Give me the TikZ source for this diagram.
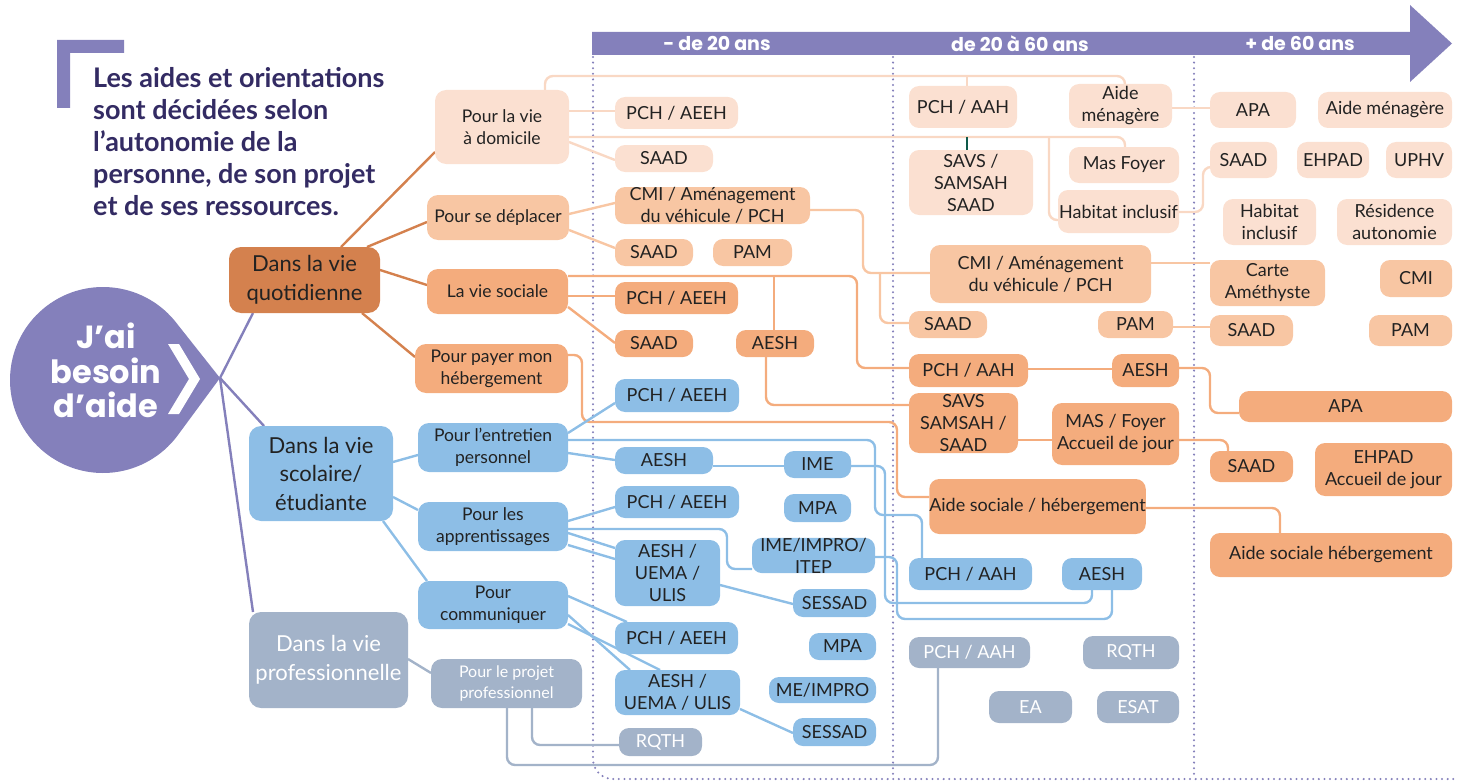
\documentclass[tikz,border=0pt]{standalone}
\usepackage{fontspec}
\setmainfont{Lato}
\newfontfamily\pop{Poppins}
\usetikzlibrary{backgrounds}
\definecolor{pu}{HTML}{8480BB}
\definecolor{navy}{HTML}{332B63}
\definecolor{ink}{HTML}{222222}
\definecolor{cdark}{HTML}{D4814E}
\definecolor{cmed}{HTML}{F4AC7D}
\definecolor{clight}{HTML}{F8C6A3}
\definecolor{cpale}{HTML}{FBE0D1}
\definecolor{cpaleL}{HTML}{F9D8C4}
\definecolor{cblue}{HTML}{8DBEE6}
\definecolor{cgrey}{HTML}{A3B3C9}
\definecolor{teal}{HTML}{0E5A4A}
\pgfdeclarelayer{bg}
\pgfsetlayers{bg,main}
\tikzset{
 bx/.style={rounded corners=10pt, inner sep=0pt, outer sep=0pt, align=center, text=ink, font=\fontsize{18}{22}\selectfont},
 lone/.style={bx, font=\fontsize{22}{28.5}\selectfont, rounded corners=12pt},
 ltwo/.style={bx, font=\fontsize{17.5}{22}\selectfont, rounded corners=11pt},
 fPale/.style={fill=cpale}, fLight/.style={fill=clight}, fMed/.style={fill=cmed},
 fDark/.style={fill=cdark}, fBlue/.style={fill=cblue}, fGrey/.style={fill=cgrey, text=white},
 ln/.style={line width=2.4pt, rounded corners=8pt},
 lnPu/.style={ln, draw=pu}, lnDk/.style={ln, draw=cdark}, lnMd/.style={ln, draw=cmed},
 lnLt/.style={ln, draw=clight}, lnPa/.style={ln, draw=cpaleL}, lnBl/.style={ln, draw=cblue},
 lnGr/.style={ln, draw=cgrey},
 dotln/.style={draw=pu, line width=2.3pt, line cap=round, dash pattern=on 0pt off 5.6pt, rounded corners=20pt},
 hdr/.style={text=white, font=\pop\bfseries\fontsize{19}{22}\selectfont, inner sep=0pt},
}
\newcommand\mkbox[7]{\node[#6, minimum width={#4-#2}, minimum height={#5-#3}] (#1) at ({(#2+#4)/2},{(#3+#5)/2}) {#7};}
\begin{document}
\begin{tikzpicture}[x=1pt,y=-1pt]
\useasboundingbox (0,0) rectangle (1461,781);
% header arrow
\fill[pu] (592,32) -- (1410,32) -- (1410,5) -- (1452,43.5) -- (1410,82) -- (1410,55) -- (592,55) -- cycle;
\node[hdr] (h1) at (717,43.5) {- de 20 ans};
\node[hdr] (h2) at (1020,43.5) {de 20 à 60 ans};
\node[hdr] (h3) at (1300,43.5) {+ de 60 ans};
% title
\fill[pu] (57,40) -- (124,40) -- (124,53) -- (70,53) -- (70,108) -- (57,108) -- cycle;
\node[anchor=north west, inner sep=0pt, align=left, text=navy, font=\bfseries\fontsize{27}{32}\selectfont] (title) at (93,67.5) {Les aides et orientations\\sont décidées selon\\l’autonomie de la\\personne, de son projet\\et de ses ressources.};
% bubble
\coordinate (tip) at (220,378);
\fill[pu] (tip) -- ([shift={(37.3:93pt)}]103,380) arc[start angle=37.3,end angle=322.7,radius=93pt] -- cycle;
\fill[white] (168,344) -- (179,344) -- (200,379) -- (179,414) -- (168,414) -- (189,379) -- cycle;
\node[anchor=north, inner sep=0pt, align=center, text=white, font=\pop\bfseries\fontsize{32}{34.5}\selectfont] (bt) at (106,323) {J’ai\\besoin\\d’aide};
% level 1
\mkbox{q}{229}{247}{380}{313}{lone,fDark}{Dans la vie\\quotidienne}
\mkbox{s}{249}{426}{393}{521}{lone,fBlue}{Dans la vie\\scolaire/\\étudiante}
\mkbox{p}{249}{612}{408}{708}{lone,fGrey}{Dans la vie\\professionnelle}
% level 2
\mkbox{dom}{435}{90}{569}{164}{ltwo,fPale}{Pour la vie\\à domicile}
\mkbox{dep}{427}{195}{569}{240}{ltwo,fLight}{Pour se déplacer}
\mkbox{soc}{427}{269}{568}{314}{ltwo,fMed}{La vie sociale}
\mkbox{heb}{415}{344}{568}{393}{ltwo,fMed}{Pour payer mon\\hébergement}
\mkbox{ent}{418}{423}{568}{472}{ltwo,fBlue}{Pour l’entretien\\personnel}
\mkbox{app}{418}{502}{568}{551}{ltwo,fBlue}{Pour les\\apprentissages}
\mkbox{com}{418}{581}{568}{629}{ltwo,fBlue}{Pour\\communiquer}
\mkbox{pro}{431}{659}{582}{708}{ltwo,fGrey,font=\fontsize{16}{21}\selectfont}{Pour le projet\\professionnel}
% pale
\mkbox{d1}{615}{97}{738}{129}{bx,fPale}{PCH / AEEH}
\mkbox{d2}{615}{145}{713}{172}{bx,fPale}{SAAD}
\mkbox{d3}{909}{86}{1017}{128}{bx,fPale}{PCH / AAH}
\mkbox{d4}{909}{150}{1033}{215}{bx,fPale}{SAVS /\\SAMSAH\\SAAD}
\mkbox{d5}{1069}{84}{1172}{128}{bx,fPale}{Aide\\ménagère}
\mkbox{d6}{1069}{147}{1179}{183}{bx,fPale}{Mas Foyer}
\mkbox{d7}{1058}{190}{1179}{233}{bx,fPale}{Habitat inclusif}
\mkbox{d8}{1210}{92}{1296}{128}{bx,fPale}{APA}
\mkbox{d9}{1318}{92}{1452}{128}{bx,fPale}{Aide ménagère}
\mkbox{d10}{1210}{142}{1277}{178}{bx,fPale}{SAAD}
\mkbox{d11}{1297}{142}{1369}{178}{bx,fPale}{EHPAD}
\mkbox{d12}{1386}{142}{1452}{178}{bx,fPale}{UPHV}
\mkbox{d13}{1223}{199}{1316}{245}{bx,fPale}{Habitat\\inclusif}
\mkbox{d14}{1337}{199}{1452}{245}{bx,fPale}{Résidence\\autonomie}
% light
\mkbox{e1}{615}{187}{810}{224}{bx,fLight}{CMI / Aménagement\\du véhicule / PCH}
\mkbox{e2}{615}{239}{693}{266}{bx,fLight}{SAAD}
\mkbox{e3}{713}{239}{792}{266}{bx,fLight}{PAM}
\mkbox{e4}{930}{245}{1151}{303}{bx,fLight}{CMI / Aménagement\\du véhicule / PCH}
\mkbox{e5}{909}{311}{987}{338}{bx,fLight}{SAAD}
\mkbox{e6}{1098}{311}{1173}{338}{bx,fLight}{PAM}
\mkbox{e7}{1210}{260}{1325}{306}{bx,fLight}{Carte\\Améthyste}
\mkbox{e8}{1380}{260}{1452}{297}{bx,fLight}{CMI}
\mkbox{e9}{1210}{315}{1293}{346}{bx,fLight}{SAAD}
\mkbox{e10}{1369}{315}{1452}{346}{bx,fLight}{PAM}
% medium
\mkbox{m1}{615}{282}{738}{314}{bx,fMed}{PCH / AEEH}
\mkbox{m2}{615}{330}{693}{357}{bx,fMed}{SAAD}
\mkbox{m3}{736}{330}{814}{357}{bx,fMed}{AESH}
\mkbox{m4}{909}{354}{1028}{387}{bx,fMed}{PCH / AAH}
\mkbox{m5}{1112}{354}{1179}{387}{bx,fMed}{AESH}
\mkbox{m6}{1239}{391}{1452}{422}{bx,fMed}{APA}
\mkbox{m7}{909}{393}{1018}{453}{bx,fMed}{SAVS\\SAMSAH /\\SAAD}
\mkbox{m8}{1052}{403}{1179}{465}{bx,fMed}{MAS / Foyer\\Accueil de jour}
\mkbox{m9}{1210}{451}{1293}{482}{bx,fMed}{SAAD}
\mkbox{m10}{1315}{443}{1452}{496}{bx,fMed}{EHPAD\\Accueil de jour}
\mkbox{m11}{930}{479}{1145}{534}{bx,fMed}{Aide sociale / hébergement}
\mkbox{m12}{1210}{533}{1452}{577}{bx,fMed}{Aide sociale hébergement}
% blue
\mkbox{b1}{615}{379}{739}{412}{bx,fBlue}{PCH / AEEH}
\mkbox{b2}{615}{447}{713}{474}{bx,fBlue}{AESH}
\mkbox{b3}{784}{451}{851}{478}{bx,fBlue}{IME}
\mkbox{b4}{784}{494}{851}{522}{bx,fBlue}{MPA}
\mkbox{b5}{615}{486}{739}{518}{bx,fBlue}{PCH / AEEH}
\mkbox{b6}{752}{538}{875}{573}{bx,fBlue}{IME/IMPRO/\\ITEP}
\mkbox{b7}{615}{540}{720}{606}{bx,fBlue}{AESH /\\UEMA /\\ULIS}
\mkbox{b8}{793}{589}{876}{617}{bx,fBlue}{SESSAD}
\mkbox{b9}{615}{622}{738}{654}{bx,fBlue}{PCH / AEEH}
\mkbox{b10}{809}{633}{876}{660}{bx,fBlue}{MPA}
\mkbox{b11}{615}{670}{740}{715}{bx,fBlue}{AESH /\\UEMA / ULIS}
\mkbox{b12}{769}{677}{876}{703}{bx,fBlue}{ME/IMPRO}
\mkbox{b13}{793}{718}{876}{746}{bx,fBlue}{SESSAD}
\mkbox{b14}{909}{558}{1032}{590}{bx,fBlue}{PCH / AAH}
\mkbox{b15}{1062}{558}{1142}{590}{bx,fBlue}{AESH}
% grey
\mkbox{g1}{619}{728}{702}{756}{bx,fGrey}{RQTH}
\mkbox{g2}{909}{637}{1030}{668}{bx,fGrey}{PCH / AAH}
\mkbox{g3}{1083}{636}{1179}{669}{bx,fGrey}{RQTH}
\mkbox{g4}{989}{691}{1072}{723}{bx,fGrey}{EA}
\mkbox{g5}{1097}{691}{1179}{723}{bx,fGrey}{ESAT}
% junctions
\coordinate (j1) at (967,76);
\coordinate (j2) at (1049,137);
\coordinate (j3) at (880,273);
\coordinate (j4) at (774,276);
\coordinate (j5) at (967,137);
\begin{pgfonlayer}{bg}
\draw[dotln] (593,57) -- (593,779) -- (1457,779);
\draw[dotln] (893,57) -- (893,779);
\draw[dotln] (1194,57) -- (1194,779);
% purple
\draw[lnPu] (tip) -- (q.south -| 253,0);
\draw[lnPu] (tip) -- (s.north -| 264,0);
\draw[lnPu] (tip) -- (p.north -| 253,0);
% dark orange
\draw[lnDk] (q.north -| 341,0) -- (dom.west |- 0,152);
\draw[lnDk] (q.north -| 367,0) -- (dep.west |- 0,222);
\draw[lnDk] (q.east |- 0,270) -- (soc.west |- 0,285);
\draw[lnDk] (q.south -| 362,0) -- (heb.west |- 0,357);
% blue level 2
\draw[lnBl] (s.east |- 0,462) -- (ent.west |- 0,455);
\draw[lnBl] (s.east |- 0,497) -- (app.west |- 0,510);
\draw[lnBl] (s.south -| 383,0) -- (com.north -| 427,0);
% grey level 2
\draw[lnGr] (p.east |- 0,659) -- (pro.west |- 0,673);
% pale
\draw[lnPa] (dom.east |- 0,111) -- (d1.west |- 0,111);
\draw[lnPa] (dom.east |- 0,142) -- (d2.west |- 0,160);
\draw[lnPa] (dom.north -| 545,0) -- (545,76) -- (1125,76) -- (d5.north -| 1125,0);
\draw[lnPa] (j1) -- (d3.north -| j1);
\draw[lnPa] (dom.east |- 0,137) -- (1125,137) -- (d6.north -| 1125,0);
\draw[lnPa] (j2) -- (1049,220) -- (d7.west |- 0,220);
\draw[line width=2.4pt, draw=teal] (j5) -- (d4.north -| j5);
\draw[lnPa] (d5.east |- 0,108) -- (d8.west |- 0,108);
\draw[lnPa] (d7.east |- 0,212) -- (1203,212) -- (1203,167) -- (d10.west |- 0,167);
% light
\draw[lnLt] (dep.east |- 0,214) -- (e1.west |- 0,203);
\draw[lnLt] (dep.east |- 0,230) -- (e2.west |- 0,248);
\draw[lnLt] (e1.east |- 0,210) -- (863,210) -- (863,273) -- (e4.west |- 0,273);
\draw[lnLt] (j3) -- (880,323) -- (e5.west |- 0,323);
\draw[lnLt] (e4.east |- 0,263) -- (e7.west |- 0,263);
\draw[lnLt] (e6.east |- 0,327) -- (e9.west |- 0,327);
% medium
\draw[lnMd] (soc.east |- 0,296) -- (m1.west |- 0,296);
\draw[lnMd] (soc.east |- 0,307) -- (m2.west |- 0,343);
\draw[lnMd] (soc.east |- 0,276) -- (857,276) -- (857,368) -- (m4.west |- 0,368);
\draw[lnMd] (j4) -- (m3.north -| j4);
\draw[lnMd] (m3.south -| 766,0) -- (766,405) -- (m7.west |- 0,405);
\draw[lnMd] (m4.east |- 0,369) -- (m5.west |- 0,369);
\draw[lnMd] (m5.east |- 0,368) -- (1210,368) -- (1210,413) -- (m6.west |- 0,413);
\draw[lnMd] (m7.east |- 0,440) -- (m8.west |- 0,440);
\draw[lnMd] (m8.east |- 0,440) -- (1228,440) -- (m9.north -| 1228,0);
\draw[lnMd] (heb.east |- 0,355) -- (582,355) -- (582,422) -- (897,422) -- (897,497) -- (m11.west |- 0,497);
\draw[lnMd] (m11.east |- 0,508) -- (1280,508) -- (m12.north -| 1280,0);
% blue
\draw[lnBl] (ent.east |- 0,433) -- (b1.west |- 0,403);
\draw[lnBl] (ent.east |- 0,440) -- (875,440) -- (875,515) -- (922,515) -- (b14.north -| 922,0);
\draw[lnBl] (ent.east |- 0,453) -- (b2.west |- 0,460);
\draw[lnBl] (b2.east |- 0,466) -- (b3.west |- 0,466);
\draw[lnBl] (b3.east |- 0,466) -- (885,466) -- (885,603) -- (1092,603) -- (b15.south -| 1092,0);
\draw[lnBl] (app.east |- 0,521) -- (b5.west |- 0,507);
\draw[lnBl] (app.east |- 0,529) -- (727,529) -- (727,569) -- (b6.west |- 0,569);
\draw[lnBl] (app.east |- 0,533) -- (b7.west |- 0,548);
\draw[lnBl] (app.east |- 0,545) -- (b7.west |- 0,559);
\draw[lnBl] (b6.east |- 0,557) -- (897,557) -- (897,619) -- (1112,619) -- (b15.south -| 1112,0);
\draw[lnBl] (b7.east |- 0,585) -- (b8.west |- 0,604);
\draw[lnBl] (com.east |- 0,596) -- (b9.north -| 627,0);
\draw[lnBl] (com.east |- 0,615) -- (b11.north -| 630,0);
\draw[lnBl] (com.east |- 0,624) -- (b11.north -| 660,0);
\draw[lnBl] (b11.east |- 0,709) -- (b13.west |- 0,733);
% grey
\draw[lnGr] (pro.south -| 532,0) -- (532,745) -- (g1.west |- 0,745);
\draw[lnGr] (pro.south -| 507,0) -- (507,765) -- (938,765) -- (g2.south -| 938,0);
\end{pgfonlayer}
\end{tikzpicture}
\end{document}
